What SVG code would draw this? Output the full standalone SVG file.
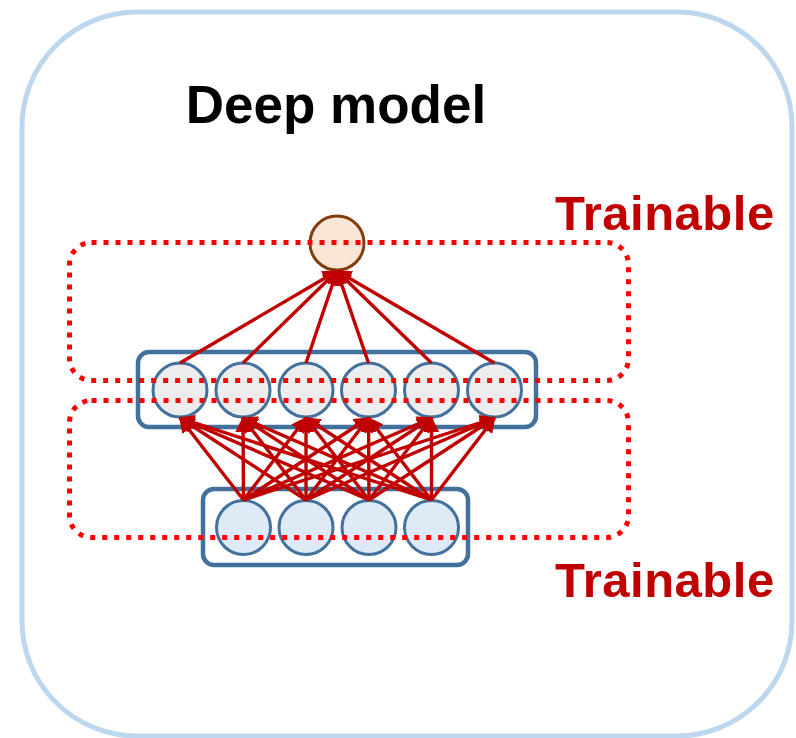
<svg xmlns="http://www.w3.org/2000/svg" width="796" height="738" viewBox="0 0 796 738">
  <defs>
    <marker id="arrow" viewBox="0 0 10 10" refX="9" refY="5" markerWidth="4.6" markerHeight="4.6" markerUnits="strokeWidth" orient="auto">
      <path d="M0,0 L10,5 L0,10 z" fill="#C00000"/>
    </marker>
    <style>
      .frame { fill: #FFFFFF; stroke: #BDD7EE; stroke-width: 5; }
      .layer { fill: none; stroke: #41719C; stroke-width: 4.5; }
      .hidden { fill: #EDEDED; stroke: #41719C; stroke-width: 3; }
      .input { fill: #DEEBF7; stroke: #41719C; stroke-width: 3; }
      .output { fill: #FBE5D6; stroke: #843C0C; stroke-width: 3; }
      .edge { stroke: #C00000; stroke-width: 3.4; fill: none; marker-end: url(#arrow); }
      .zone { fill: none; stroke: #FF0000; stroke-width: 5; stroke-dasharray: 5 7; }
      .title { font-family: "Liberation Sans", Arial, sans-serif; font-weight: bold; font-size: 53px; fill: #000000; }
      .tag { font-family: "Liberation Sans", Arial, sans-serif; font-weight: bold; font-size: 49px; letter-spacing: 0.5px; fill: #C00000; }
    </style>
  </defs>

  <rect id="frame" class="frame" x="22" y="12" width="770" height="724" rx="115" ry="115"/>

  <g id="title">
    <text class="title" x="336" y="123" text-anchor="middle">Deep model</text>
  </g>

  <!-- input layer -->
  <g id="input-layer">
    <rect class="layer" x="203" y="489" width="265" height="76" rx="11" ry="11"/>
    <circle class="input" cx="243.5" cy="527.5" r="27"/>
    <circle class="input" cx="306" cy="527.5" r="27"/>
    <circle class="input" cx="369" cy="527.5" r="27"/>
    <circle class="input" cx="431.5" cy="527.5" r="27"/>
  </g>

  <!-- hidden layer -->
  <g id="hidden-layer">
    <rect class="layer" x="138" y="352" width="398" height="75" rx="11" ry="11"/>
    <circle class="hidden" cx="180" cy="390" r="27"/>
    <circle class="hidden" cx="243" cy="390" r="27"/>
    <circle class="hidden" cx="306" cy="390" r="27"/>
    <circle class="hidden" cx="368.5" cy="390" r="27"/>
    <circle class="hidden" cx="431.5" cy="390" r="27"/>
    <circle class="hidden" cx="494.5" cy="390" r="27"/>
  </g>

  <!-- output unit -->
  <g id="output-unit">
    <circle class="output" cx="337" cy="243" r="27"/>
  </g>

  <!-- connections -->
  <g id="connectors">
    <!-- input to hidden -->
    <line class="edge" x1="243.5" y1="500" x2="180" y2="418"/>
    <line class="edge" x1="243.5" y1="500" x2="243" y2="418"/>
    <line class="edge" x1="243.5" y1="500" x2="306" y2="418"/>
    <line class="edge" x1="243.5" y1="500" x2="368.5" y2="418"/>
    <line class="edge" x1="243.5" y1="500" x2="431.5" y2="418"/>
    <line class="edge" x1="243.5" y1="500" x2="494.5" y2="418"/>
    <line class="edge" x1="306" y1="500" x2="180" y2="418"/>
    <line class="edge" x1="306" y1="500" x2="243" y2="418"/>
    <line class="edge" x1="306" y1="500" x2="306" y2="418"/>
    <line class="edge" x1="306" y1="500" x2="368.5" y2="418"/>
    <line class="edge" x1="306" y1="500" x2="431.5" y2="418"/>
    <line class="edge" x1="306" y1="500" x2="494.5" y2="418"/>
    <line class="edge" x1="369" y1="500" x2="180" y2="418"/>
    <line class="edge" x1="369" y1="500" x2="243" y2="418"/>
    <line class="edge" x1="369" y1="500" x2="306" y2="418"/>
    <line class="edge" x1="369" y1="500" x2="368.5" y2="418"/>
    <line class="edge" x1="369" y1="500" x2="431.5" y2="418"/>
    <line class="edge" x1="369" y1="500" x2="494.5" y2="418"/>
    <line class="edge" x1="431.5" y1="500" x2="180" y2="418"/>
    <line class="edge" x1="431.5" y1="500" x2="243" y2="418"/>
    <line class="edge" x1="431.5" y1="500" x2="306" y2="418"/>
    <line class="edge" x1="431.5" y1="500" x2="368.5" y2="418"/>
    <line class="edge" x1="431.5" y1="500" x2="431.5" y2="418"/>
    <line class="edge" x1="431.5" y1="500" x2="494.5" y2="418"/>
    <!-- hidden to output -->
    <line class="edge" x1="180" y1="363" x2="337" y2="271"/>
    <line class="edge" x1="243" y1="363" x2="337" y2="271"/>
    <line class="edge" x1="306" y1="363" x2="337" y2="271"/>
    <line class="edge" x1="368.5" y1="363" x2="337" y2="271"/>
    <line class="edge" x1="431.5" y1="363" x2="337" y2="271"/>
    <line class="edge" x1="494.5" y1="363" x2="337" y2="271"/>
  </g>

  <!-- trainable regions -->
  <g id="trainable-top">
    <rect class="zone" x="69.5" y="242.5" width="559" height="138" rx="22" ry="22"/>
    <text class="tag" x="555" y="230">Trainable</text>
  </g>
  <g id="trainable-bottom">
    <rect class="zone" x="69.5" y="400.5" width="559" height="137" rx="22" ry="22"/>
    <text class="tag" x="555" y="597">Trainable</text>
  </g>
</svg>
